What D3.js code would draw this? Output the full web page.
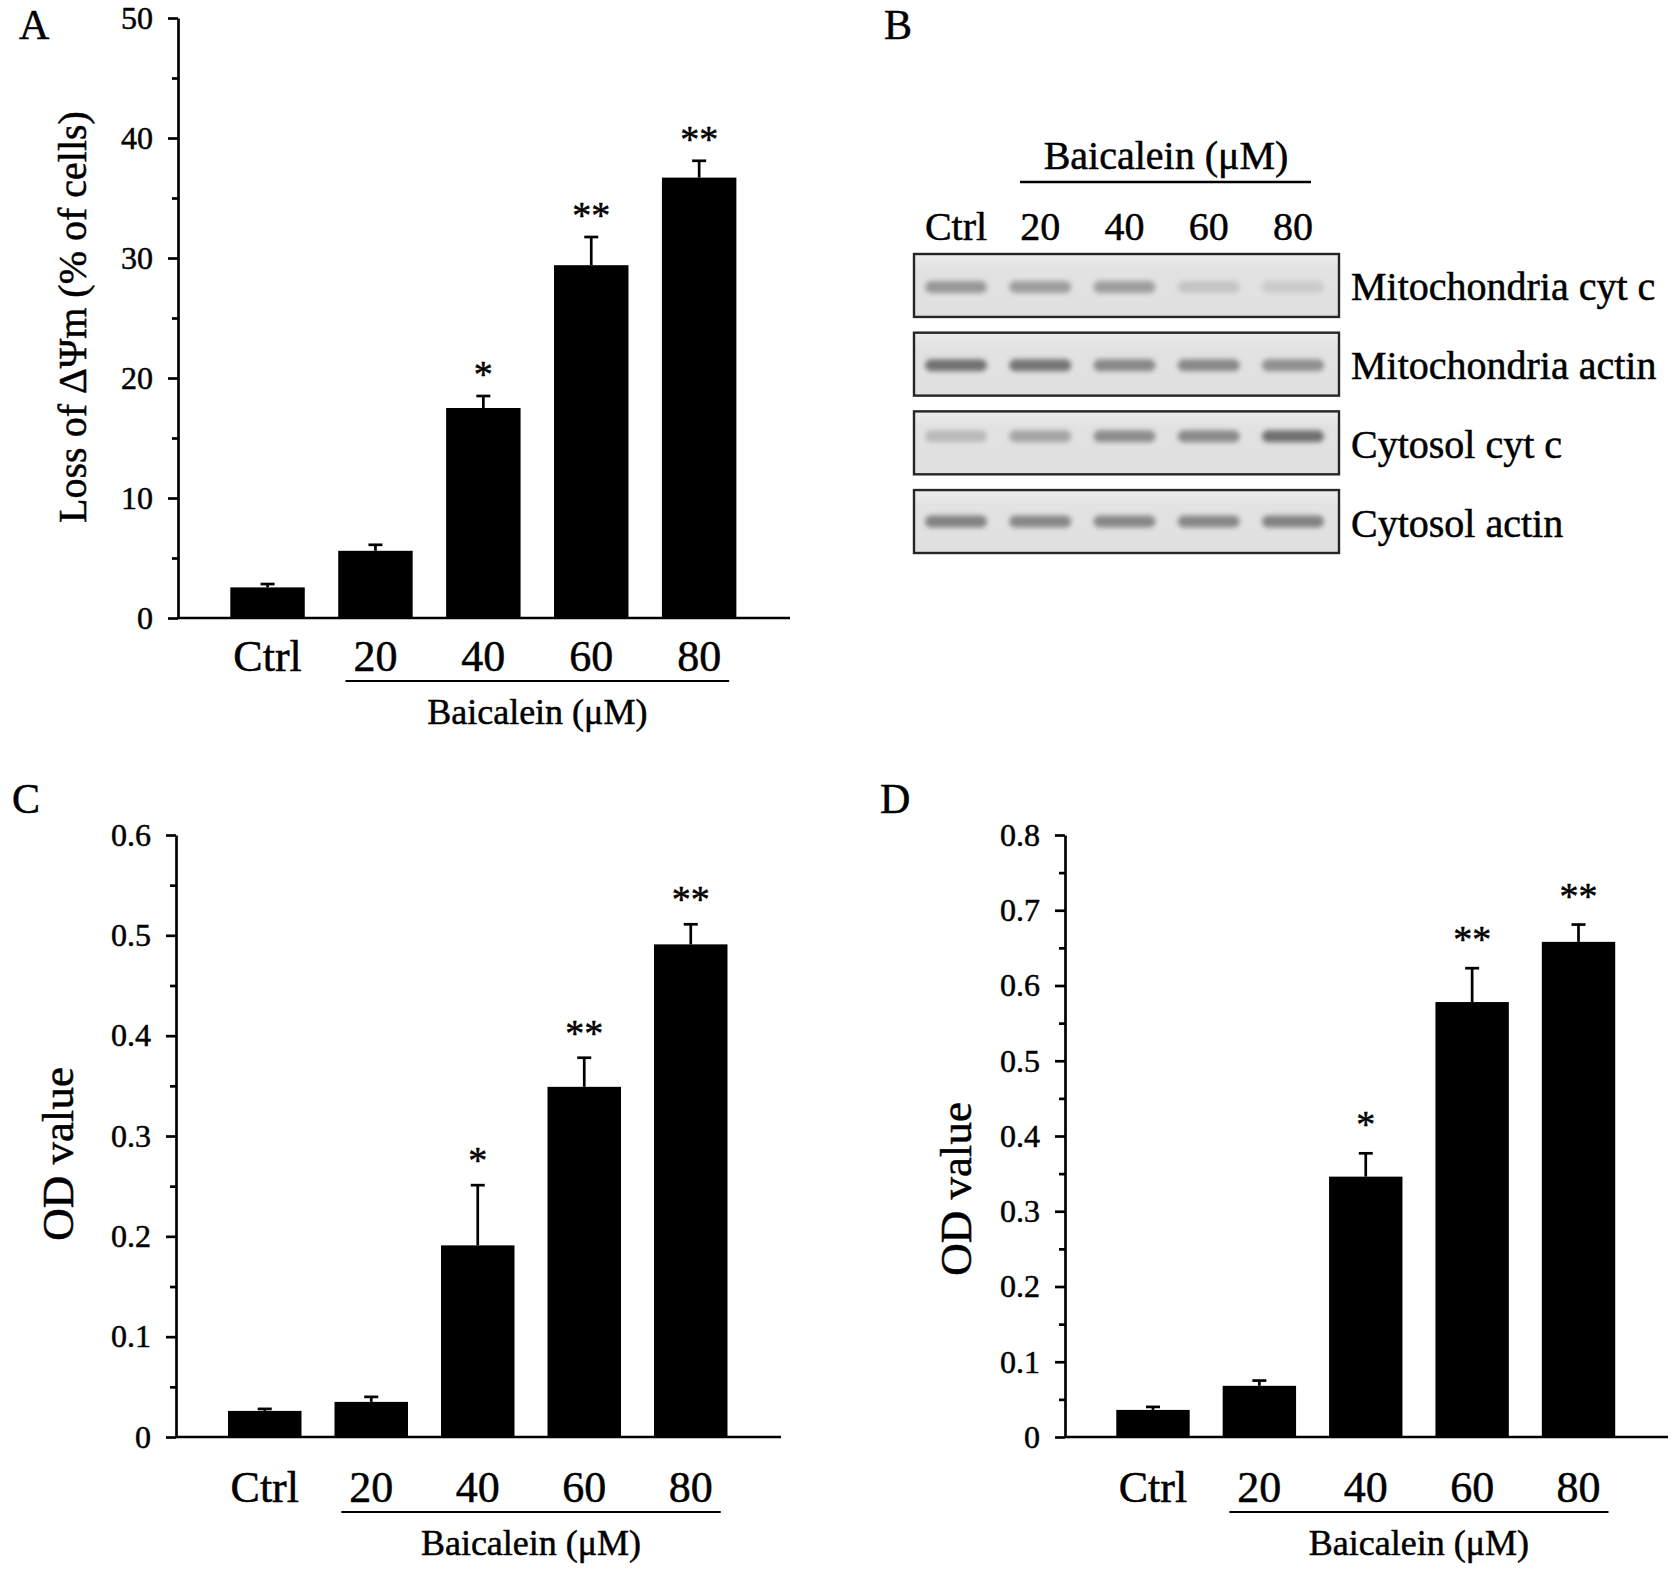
<!DOCTYPE html>
<html>
<head>
<meta charset="utf-8">
<script src="https://cdn.jsdelivr.net/npm/d3@7"></script>
<style>
  body { margin: 0; background: #fff; }
  text { font-family: "Liberation Serif", "Times New Roman", serif; fill: #000; stroke: #000; stroke-width: 0.5px; }
</style>
</head>
<body>
<div id="viz"></div>
<script>
// ---- data ----
const doses = ["Ctrl", "20", "40", "60", "80"];

// panel A: loss of mitochondrial membrane potential (% of cells)
const lossMean = [2.55, 5.6, 17.5, 29.4, 36.7];
const lossErr = [0.28, 0.5, 1.0, 2.35, 1.4];
const lossSig = ["", "", "*", "**", "**"];

// panel C: OD value
const cMean = [0.026, 0.035, 0.191, 0.349, 0.491];
const cErr = [0.002, 0.005, 0.06, 0.029, 0.02];
const cSig = ["", "", "*", "**", "**"];

// panel D: OD value
const dMean = [0.036, 0.068, 0.346, 0.578, 0.658];
const dErr = [0.004, 0.007, 0.031, 0.045, 0.023];
const dSig = ["", "", "*", "**", "**"];

// panel B: western blot, band darkness 0..1 per lane
const blotRows = ["Mitochondria cyt c", "Mitochondria actin", "Cytosol cyt c", "Cytosol actin"];
const blotDarkness = [
  [0.50, 0.45, 0.45, 0.16, 0.12],
  [0.78, 0.76, 0.62, 0.62, 0.56],
  [0.24, 0.40, 0.58, 0.60, 0.80],
  [0.66, 0.62, 0.62, 0.62, 0.66]
];

const width = 1677,
  height = 1571;

const svg = d3
  .select("#viz")
  .append("svg")
  .attr("width", width)
  .attr("height", height);

const defs = svg.append("defs");
defs
  .append("filter")
  .attr("id", "blur")
  .attr("x", "-20%")
  .attr("y", "-80%")
  .attr("width", "140%")
  .attr("height", "260%")
  .append("feGaussianBlur")
  .attr("stdDeviation", 2.6);

const boxGrad = defs
  .append("linearGradient")
  .attr("id", "boxfill")
  .attr("x1", 0)
  .attr("x2", 0)
  .attr("y1", 0)
  .attr("y2", 1);
boxGrad.append("stop").attr("offset", "0%").attr("stop-color", "#ececec");
boxGrad.append("stop").attr("offset", "25%").attr("stop-color", "#e2e2e2");
boxGrad.append("stop").attr("offset", "100%").attr("stop-color", "#e0e0e0");

function barPanel(p) {
  const g = svg.append("g");

  const y = d3.scaleLinear().domain([0, p.max]).range([p.y0, p.yTop]);
  const x = d3
    .scaleBand()
    .domain(doses)
    .range(p.xRange)
    .paddingInner(0.31)
    .paddingOuter(0.155);

  // bars
  g.selectAll("rect.bar")
    .data(p.mean)
    .enter()
    .append("rect")
    .attr("class", "bar")
    .attr("x", (d, i) => x(doses[i]))
    .attr("y", d => y(d))
    .attr("width", x.bandwidth())
    .attr("height", d => p.y0 - y(d))
    .attr("fill", "#000");

  // error bars
  const cx = i => x(doses[i]) + x.bandwidth() / 2;
  g.selectAll("line.err")
    .data(p.mean)
    .enter()
    .append("line")
    .attr("x1", (d, i) => cx(i))
    .attr("x2", (d, i) => cx(i))
    .attr("y1", d => y(d))
    .attr("y2", (d, i) => y(d + p.err[i]))
    .attr("stroke", "#000")
    .attr("stroke-width", 2.7);
  g.selectAll("line.cap")
    .data(p.mean)
    .enter()
    .append("line")
    .attr("x1", (d, i) => cx(i) - 7)
    .attr("x2", (d, i) => cx(i) + 7)
    .attr("y1", (d, i) => y(d + p.err[i]))
    .attr("y2", (d, i) => y(d + p.err[i]))
    .attr("stroke", "#000")
    .attr("stroke-width", 2.7);

  // significance stars
  g.selectAll("text.sig")
    .data(p.sig)
    .enter()
    .append("text")
    .attr("x", (d, i) => cx(i))
    .attr("y", (d, i) => y(p.mean[i] + p.err[i]) - p.starGap)
    .attr("text-anchor", "middle")
    .attr("font-size", 38)
    .text(d => d);

  // y axis, major + minor
  const yAxis = d3
    .axisLeft(y)
    .tickValues(d3.range(0, p.max + p.step / 2, p.step))
    .tickFormat(p.fmt)
    .tickSize(10)
    .tickSizeOuter(0)
    .tickPadding(15);
  const ya = g
    .append("g")
    .attr("transform", `translate(${p.axisX},0)`)
    .call(yAxis);
  ya.selectAll("text")
    .attr("font-family", "Liberation Serif")
    .attr("font-size", 32);

  const minor = d3
    .axisLeft(y)
    .tickValues(d3.range(p.step / 2, p.max, p.step))
    .tickFormat("")
    .tickSize(6)
    .tickSizeOuter(0);
  const ym = g
    .append("g")
    .attr("transform", `translate(${p.axisX},0)`)
    .call(minor);
  ym.select(".domain").remove();

  g.selectAll(".tick line").attr("stroke", "#000").attr("stroke-width", 2.7);
  g.selectAll(".domain").attr("stroke", "#000").attr("stroke-width", 2.7);

  // x baseline
  g.append("line")
    .attr("x1", p.axisX)
    .attr("x2", p.xEnd)
    .attr("y1", p.y0)
    .attr("y2", p.y0)
    .attr("stroke", "#000")
    .attr("stroke-width", 2.7);

  // x labels
  const xAxis = d3.axisBottom(x).tickSize(0).tickSizeOuter(0);
  const xa = g
    .append("g")
    .attr("transform", `translate(0,${p.y0})`)
    .call(xAxis);
  xa.select(".domain").remove();
  xa.selectAll("text")
    .attr("font-family", "Liberation Serif")
    .attr("font-size", 44)
    .attr("fill", "#000")
    .attr("y", p.labelGap)
    .attr("dy", 0);

  // bracket under doses + caption
  const bx1 = cx(1) - 30,
    bx2 = cx(4) + 30;
  g.append("line")
    .attr("x1", bx1)
    .attr("x2", bx2)
    .attr("y1", p.y0 + p.labelGap + 10)
    .attr("y2", p.y0 + p.labelGap + 10)
    .attr("stroke", "#000")
    .attr("stroke-width", 2.2);
  g.append("text")
    .attr("x", (bx1 + bx2) / 2)
    .attr("y", p.y0 + p.labelGap + 53)
    .attr("text-anchor", "middle")
    .attr("font-size", 36)
    .text("Baicalein (\u03bcM)");

  // y title
  g.append("text")
    .attr("transform", `translate(${p.titleX},${p.titleY}) rotate(-90)`)
    .attr("text-anchor", "middle")
    .attr("font-size", p.titleSize)
    .text(p.title);

  // panel letter
  svg.append("text")
    .attr("x", p.letterX)
    .attr("y", p.letterY)
    .attr("font-size", 42)
    .text(p.letter);
}

const fmt1 = d => (d === 0 ? "0" : d3.format(".1f")(d));

//A
barPanel({
  mean: lossMean, err: lossErr, sig: lossSig,
  max: 50, step: 10, fmt: d3.format("d"),
  axisX: 178, y0: 618, yTop: 18, xEnd: 790, xRange: [213.6, 753.1],
  starGap: 9, labelGap: 53,
  title: "Loss of \u0394\u03a8m (% of cells)", titleX: 86, titleY: 317, titleSize: 40,
  letter: "A", letterX: 19, letterY: 39
});

//C
barPanel({
  mean: cMean, err: cErr, sig: cSig,
  max: 0.6, step: 0.1, fmt: fmt1,
  axisX: 176, y0: 1437, yTop: 835, xEnd: 781, xRange: [211.5, 744],
  starGap: 12, labelGap: 65,
  title: "OD value", titleX: 73, titleY: 1154, titleSize: 45,
  letter: "C", letterX: 12, letterY: 813
});

//D
barPanel({
  mean: dMean, err: dErr, sig: dSig,
  max: 0.8, step: 0.1, fmt: fmt1,
  axisX: 1065, y0: 1437, yTop: 835, xEnd: 1668, xRange: [1099.8, 1631.7],
  starGap: 16, labelGap: 65,
  title: "OD value", titleX: 971, titleY: 1189, titleSize: 45,
  letter: "D", letterX: 880, letterY: 813
});

//B - western blot
const gB = svg.append("g");
const lane = d3.scalePoint().domain(doses).range([956, 1293]);
const row = d3.scaleBand().domain(blotRows).range([254, 553]).paddingInner(0.2);
const bandOffset = [33, 32.5, 25, 31.5];
const bandShade = d3.interpolateRgb("#dadada", "#555555");

gB.selectAll("rect.box")
  .data(blotRows)
  .enter()
  .append("rect")
  .attr("x", 914)
  .attr("y", d => row(d))
  .attr("width", 425)
  .attr("height", row.bandwidth())
  .attr("fill", "url(#boxfill)")
  .attr("stroke", "#262626")
  .attr("stroke-width", 2.4);

blotRows.forEach((r, ri) => {
  gB.selectAll(`rect.band${ri}`)
    .data(blotDarkness[ri])
    .enter()
    .append("rect")
    .attr("x", (d, i) => lane(doses[i]) - 31)
    .attr("y", row(r) + bandOffset[ri] - 6)
    .attr("width", 62)
    .attr("height", 12)
    .attr("rx", 6)
    .attr("fill", d => bandShade(d))
    .attr("filter", "url(#blur)");
});

gB.selectAll("text.rowlab")
  .data(blotRows)
  .enter()
  .append("text")
  .attr("x", 1351)
  .attr("y", d => row(d) + row.bandwidth() / 2 + 15)
  .attr("font-size", 40)
  .text(d => d);

gB.selectAll("text.lanelab")
  .data(doses)
  .enter()
  .append("text")
  .attr("x", d => lane(d))
  .attr("y", 240)
  .attr("text-anchor", "middle")
  .attr("font-size", 40)
  .text(d => d);

gB.append("text")
  .attr("x", 1166)
  .attr("y", 169)
  .attr("text-anchor", "middle")
  .attr("font-size", 40)
  .text("Baicalein (\u03bcM)");
gB.append("line")
  .attr("x1", 1020)
  .attr("x2", 1311)
  .attr("y1", 182)
  .attr("y2", 182)
  .attr("stroke", "#000")
  .attr("stroke-width", 2.5);

svg.append("text")
  .attr("x", 884)
  .attr("y", 39)
  .attr("font-size", 42)
  .text("B");
</script>
</body>
</html>
